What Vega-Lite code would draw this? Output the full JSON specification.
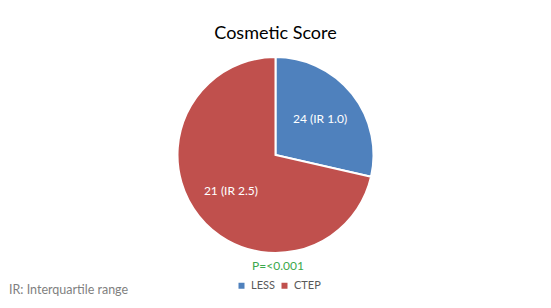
{
  "$schema": "https://vega.github.io/schema/vega-lite/v6.json",
  "background": "white",
  "padding": {"top": 25, "left": 0, "right": 0, "bottom": 0},
  "config": {"view": {"stroke": null}, "font": "Lato", "concat": {"spacing": 0}},
  "title": {"text": "IR: Interquartile range", "orient": "bottom", "anchor": "start", "frame": "bounds", "fontSize": 12.5, "fontWeight": "normal", "color": "#7f7f7f", "font": "Lato", "dx": 9, "offset": -7},
  "vconcat": [
    {
      "width": 551,
      "height": 196,
      "title": {"text": "Cosmetic Score", "fontSize": 18, "fontWeight": "normal", "color": "#000000", "anchor": "middle", "offset": 10, "font": "Lato"},
      "data": {"values": [
        {"group": "LESS", "ir": 1.0, "label": "24 (IR 1.0)"},
        {"group": "CTEP", "ir": 2.5, "label": "21 (IR 2.5)"}
      ]},
      "encoding": {
        "theta": {"field": "ir", "type": "quantitative", "stack": true},
        "order": {"field": "group", "sort": "descending"}
      },
      "layer": [
        {
          "mark": {"type": "arc", "outerRadius": 98, "stroke": "white", "strokeWidth": 2},
          "encoding": {
            "color": {"field": "group", "type": "nominal",
              "scale": {"domain": ["LESS", "CTEP"], "range": ["#4F81BD", "#C0504D"]},
              "legend": {"orient": "none", "legendX": 236, "legendY": 204, "direction": "horizontal", "title": "P=<0.001", "titleColor": "#3CA84C", "titleFontSize": 12, "titleFontWeight": "normal", "titleAnchor": "middle", "titlePadding": 7, "symbolType": "square", "symbolSize": 36, "symbolStrokeWidth": 0, "labelColor": "#595959", "labelFontSize": 11, "labelOffset": 4, "columnPadding": 4}
            }
          }
        },
        {
          "mark": {"type": "text", "radius": 57, "color": "white", "fontSize": 12, "font": "Lato"},
          "encoding": {"text": {"field": "label", "type": "nominal"}}
        }
      ]
    }
  ]
}
